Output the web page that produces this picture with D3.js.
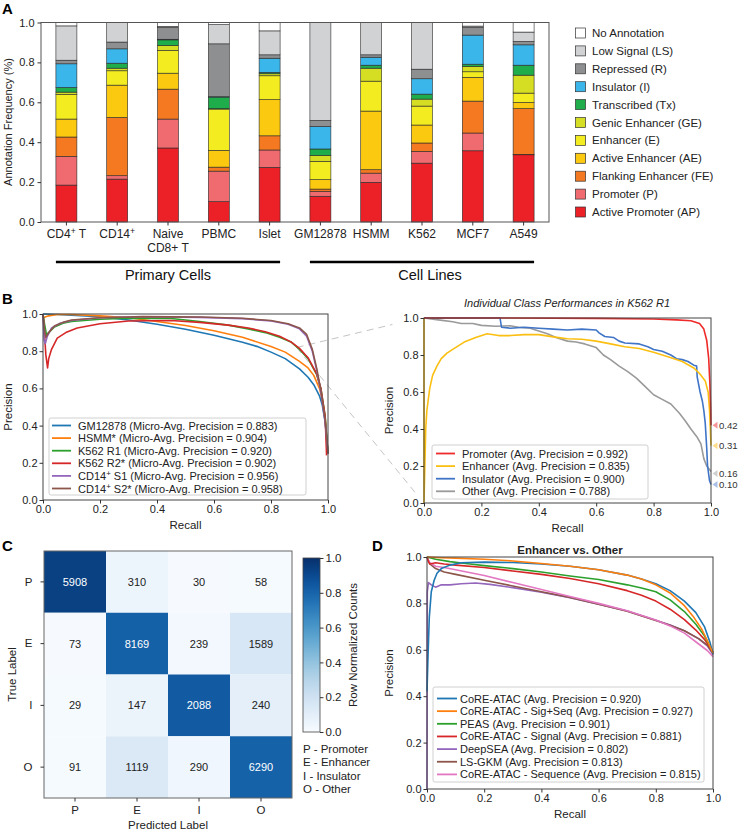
<!DOCTYPE html>
<html><head><meta charset="utf-8">
<script src="https://cdn.jsdelivr.net/npm/d3@7"></script>
<style>
body{margin:0;background:#fff;}
svg{font-family:"Liberation Sans",Arial,sans-serif;}
</style></head>
<body>
<svg id="chart" width="739" height="830"></svg>
<script>
// ---------------- DATA ----------------
// Panel A
const cellTypes = ["CD4^{+} T","CD14^{+}","Naive|CD8+ T","PBMC","Islet","GM12878","HSMM","K562","MCF7","A549"];
const stateKeys = ["AP","P","FE","AE","E","GE","Tx","I","R","LS","NA"];
const stateNames = ["Active Promoter (AP)","Promoter (P)","Flanking Enhancer (FE)","Active Enhancer (AE)","Enhancer (E)","Genic Enhancer (GE)","Transcribed (Tx)","Insulator (I)","Repressed (R)","Low Signal (LS)","No Annotation"];
const stateColors = ["#ec2027","#f06b6f","#f47920","#fbc910","#f3ec20","#d6de23","#1fad4b","#3bb6ea","#8e8f91","#d1d2d4","#ffffff"];
const valAP = [0.185,0.215,0.371,0.102,0.274,0.129,0.199,0.295,0.357,0.337];
const valP  = [0.144,0.017,0.145,0.153,0.087,0.025,0.046,0.059,0.089,0.002];
const valFE = [0.097,0.292,0.150,0.020,0.071,0.011,0.017,0.042,0.160,0.229];
const valAE = [0.090,0.162,0.080,0.084,0.181,0.047,0.294,0.090,0.119,0.031];
const valE  = [0.123,0.072,0.114,0.207,0.120,0.092,0.150,0.095,0.028,0.047];
const valGE = [0.012,0.013,0.025,0.002,0.010,0.030,0.065,0.035,0.027,0.090];
const valTx = [0.023,0.025,0.028,0.058,0.007,0.032,0.015,0.025,0.011,0.050];
const valI  = [0.119,0.072,0.003,0.002,0.071,0.113,0.040,0.077,0.146,0.102];
const valR  = [0.018,0.034,0.059,0.265,0.017,0.030,0.012,0.048,0.038,0.017];
const valLS = [0.172,0.098,0.005,0.096,0.120,0.491,0.162,0.234,0.007,0.047];
const valNA = [0.017,0.000,0.020,0.011,0.042,0.000,0.000,0.000,0.018,0.048];
const groups = [{name:"Primary Cells",from:0,to:4,shift:0},{name:"Cell Lines",from:5,to:9,shift:8}];
const ticks01 = [0,0.2,0.4,0.6,0.8,1.0];

// Panel B left (micro-avg PR curves)
const prGM12878 = [[0,1],[0.05,0.997],[0.1,0.993],[0.2,0.985],[0.3,0.968],[0.4,0.945],[0.5,0.918],[0.6,0.886],[0.7,0.848],[0.75,0.826],[0.8,0.795],[0.85,0.76],[0.9,0.705],[0.93,0.66],[0.95,0.62],[0.97,0.56],[0.98,0.51],[0.99,0.42],[0.995,0.33],[1,0.25]];
const prHSMM = [[0,0.98],[0.02,0.99],[0.05,0.997],[0.1,0.997],[0.2,0.99],[0.3,0.98],[0.4,0.96],[0.5,0.938],[0.6,0.91],[0.7,0.875],[0.8,0.825],[0.85,0.795],[0.9,0.745],[0.93,0.71],[0.95,0.67],[0.97,0.6],[0.98,0.54],[0.99,0.44],[1,0.25]];
const prK562R1 = [[0,1],[0.005,0.95],[0.012,0.89],[0.02,0.9],[0.04,0.93],[0.07,0.95],[0.1,0.96],[0.2,0.972],[0.3,0.978],[0.45,0.976],[0.55,0.96],[0.65,0.94],[0.72,0.92],[0.78,0.9],[0.83,0.875],[0.87,0.85],[0.9,0.81],[0.93,0.76],[0.96,0.675],[0.975,0.6],[0.99,0.45],[1,0.25]];
const prK562R2 = [[0,1],[0.005,0.9],[0.01,0.78],[0.016,0.71],[0.02,0.76],[0.03,0.81],[0.05,0.87],[0.08,0.9],[0.12,0.925],[0.2,0.948],[0.3,0.962],[0.45,0.965],[0.55,0.955],[0.65,0.94],[0.72,0.925],[0.78,0.905],[0.83,0.88],[0.87,0.85],[0.9,0.815],[0.93,0.765],[0.96,0.68],[0.975,0.6],[0.99,0.45],[0.995,0.24]];
const prCD14S1 = [[0,1],[0.004,0.86],[0.008,0.84],[0.015,0.88],[0.03,0.925],[0.06,0.95],[0.1,0.965],[0.2,0.98],[0.35,0.985],[0.55,0.982],[0.7,0.975],[0.8,0.962],[0.86,0.945],[0.9,0.92],[0.925,0.88],[0.945,0.8],[0.96,0.7],[0.975,0.58],[0.99,0.42],[1,0.25]];
const prCD14S2 = [[0,1],[0.005,0.92],[0.01,0.875],[0.02,0.9],[0.04,0.935],[0.07,0.955],[0.1,0.968],[0.2,0.98],[0.35,0.986],[0.55,0.984],[0.7,0.977],[0.8,0.965],[0.86,0.948],[0.9,0.925],[0.925,0.89],[0.945,0.81],[0.96,0.71],[0.975,0.59],[0.99,0.43],[1,0.25]];
const bLeftLabels = ["GM12878 (Micro-Avg. Precision = 0.883)","HSMM* (Micro-Avg. Precision = 0.904)","K562 R1 (Micro-Avg. Precision = 0.920)","K562 R2* (Micro-Avg. Precision = 0.902)","CD14^{+} S1 (Micro-Avg. Precision = 0.956)","CD14^{+} S2* (Micro-Avg. Precision = 0.958)"];
const bLeftColors = ["#1f77b4","#ff7f0e","#2ca02c","#d62728","#9467bd","#8c564b"];

// Panel B right (class PR curves, K562 R1)
const prPromoter = [[0,1],[0.3,1],[0.6,0.998],[0.8,0.995],[0.88,0.99],[0.93,0.985],[0.96,0.97],[0.975,0.94],[0.985,0.88],[0.992,0.78],[0.996,0.65],[0.999,0.5],[1,0.42]];
const prEnhancer = [[0,1],[0,0],[0.003,0.2],[0.006,0.4],[0.01,0.5],[0.02,0.62],[0.03,0.69],[0.045,0.74],[0.06,0.78],[0.08,0.81],[0.1,0.83],[0.14,0.87],[0.18,0.895],[0.22,0.915],[0.26,0.905],[0.3,0.905],[0.35,0.91],[0.4,0.91],[0.45,0.898],[0.5,0.888],[0.55,0.885],[0.6,0.875],[0.65,0.86],[0.7,0.845],[0.75,0.835],[0.8,0.815],[0.85,0.79],[0.9,0.765],[0.94,0.73],[0.96,0.7],[0.98,0.66],[0.99,0.6],[0.995,0.5],[1,0.31]];
const prInsulator = [[0,1],[0.265,1],[0.27,0.95],[0.3,0.945],[0.35,0.95],[0.4,0.945],[0.45,0.94],[0.5,0.935],[0.55,0.94],[0.6,0.935],[0.61,0.92],[0.63,0.9],[0.66,0.895],[0.68,0.875],[0.7,0.865],[0.75,0.86],[0.78,0.845],[0.8,0.83],[0.83,0.82],[0.86,0.8],[0.88,0.78],[0.9,0.775],[0.92,0.765],[0.94,0.745],[0.95,0.74],[0.952,0.68],[0.962,0.6],[0.97,0.55],[0.975,0.5],[0.98,0.43],[0.985,0.3],[0.988,0.2],[0.995,0.12],[1,0.1]];
const prOther = [[0,1],[0.05,0.99],[0.1,0.98],[0.13,0.97],[0.17,0.97],[0.2,0.96],[0.25,0.955],[0.3,0.958],[0.33,0.95],[0.37,0.945],[0.4,0.93],[0.43,0.915],[0.46,0.895],[0.5,0.875],[0.53,0.87],[0.56,0.86],[0.6,0.84],[0.625,0.8],[0.65,0.775],[0.68,0.74],[0.71,0.71],[0.74,0.675],[0.77,0.63],[0.8,0.585],[0.83,0.56],[0.86,0.535],[0.89,0.485],[0.91,0.445],[0.93,0.4],[0.95,0.36],[0.965,0.32],[0.975,0.24],[0.985,0.2],[1,0.17]];
const bRightLabels = ["Promoter (Avg. Precision = 0.992)","Enhancer (Avg. Precision = 0.835)","Insulator (Avg. Precision = 0.900)","Other (Avg. Precision = 0.788)"];
const bRightColors = ["#ee2a2a","#fbbf12","#3f74c7","#9a9a9a"];
const baselineVals = [0.42,0.31,0.16,0.10];
const baselineColors = ["#f5969a","#fddc8a","#cfcfcf","#a9bfe6"];

// Panel C
const cmLabels = ["P","E","I","O"];
const cmCounts = [[5908,310,30,58],[73,8169,239,1589],[29,147,2088,240],[91,1119,290,6290]];
const cmKey = ["P - Promoter","E - Enhancer","I - Insulator","O - Other"];

// Panel D
const prCoreAtac = [[0,0.42],[0.003,0.55],[0.008,0.74],[0.015,0.85],[0.025,0.9],[0.035,0.93],[0.05,0.95],[0.08,0.965],[0.12,0.975],[0.2,0.978],[0.3,0.976],[0.4,0.97],[0.5,0.96],[0.6,0.945],[0.7,0.922],[0.75,0.905],[0.8,0.885],[0.85,0.855],[0.9,0.81],[0.94,0.76],[0.97,0.7],[0.99,0.63],[1,0.58]];
const prSigSeq = [[0,1],[0.05,0.997],[0.1,0.995],[0.2,0.99],[0.3,0.983],[0.4,0.972],[0.5,0.96],[0.6,0.945],[0.7,0.922],[0.75,0.905],[0.8,0.88],[0.85,0.845],[0.9,0.79],[0.93,0.745],[0.96,0.69],[0.98,0.64],[1,0.585]];
const prPEAS = [[0,1],[0.03,0.99],[0.08,0.98],[0.15,0.97],[0.2,0.963],[0.3,0.95],[0.4,0.935],[0.5,0.918],[0.6,0.903],[0.7,0.88],[0.75,0.866],[0.8,0.85],[0.85,0.815],[0.9,0.765],[0.94,0.71],[0.97,0.66],[1,0.59]];
const prSignal = [[0,1],[0.005,0.98],[0.01,0.97],[0.03,0.975],[0.06,0.97],[0.1,0.965],[0.2,0.955],[0.3,0.94],[0.4,0.925],[0.5,0.907],[0.6,0.885],[0.7,0.855],[0.75,0.835],[0.8,0.81],[0.85,0.775],[0.9,0.73],[0.94,0.685],[0.97,0.645],[1,0.59]];
const prDeepSEA = [[0,0],[0.001,0.85],[0.005,0.89],[0.015,0.88],[0.03,0.87],[0.05,0.88],[0.08,0.88],[0.12,0.885],[0.17,0.888],[0.22,0.882],[0.3,0.868],[0.4,0.848],[0.5,0.825],[0.6,0.797],[0.7,0.767],[0.8,0.727],[0.85,0.707],[0.9,0.682],[0.95,0.647],[0.98,0.617],[1,0.58]];
const prLSGKM = [[0,1],[0.01,0.97],[0.03,0.95],[0.06,0.935],[0.1,0.925],[0.2,0.9],[0.3,0.875],[0.4,0.85],[0.5,0.826],[0.6,0.796],[0.7,0.766],[0.8,0.726],[0.85,0.706],[0.9,0.682],[0.95,0.648],[0.98,0.62],[1,0.585]];
const prSequence = [[0,1],[0.01,0.975],[0.03,0.96],[0.06,0.955],[0.1,0.945],[0.2,0.92],[0.3,0.89],[0.4,0.86],[0.5,0.83],[0.6,0.8],[0.7,0.768],[0.8,0.728],[0.85,0.703],[0.9,0.672],[0.95,0.625],[0.98,0.597],[1,0.57]];
const dLabels = ["CoRE-ATAC (Avg. Precision = 0.920)","CoRE-ATAC - Sig+Seq (Avg. Precision = 0.927)","PEAS (Avg. Precision = 0.901)","CoRE-ATAC - Signal (Avg. Precision = 0.881)","DeepSEA (Avg. Precision = 0.802)","LS-GKM (Avg. Precision = 0.813)","CoRE-ATAC - Sequence (Avg. Precision = 0.815)"];
const dColors = ["#1f77b4","#ff7f0e","#2ca02c","#d62728","#9467bd","#8c564b","#e377c2"];

// ---------------- HELPERS ----------------
const svg = d3.select("#chart");
const FS = 11;
function rich(sel, str){
  const parts = str.split(/\^\{(.*?)\}/);
  let shift = 0;
  parts.forEach((p,i)=>{
    if(p==="") return;
    const t = sel.append("tspan").text(p);
    if(i%2===1){ t.attr("font-size","0.72em").attr("dy",-4-shift); shift=-4; }
    else { if(shift!==0){ t.attr("dy",-shift); shift=0; } }
  });
  return sel;
}
function txt(g,x,y,s,opt={}){
  const t=g.append("text").attr("x",x).attr("y",y).attr("font-size",opt.fs||FS).attr("fill",opt.fill||"#222")
    .attr("text-anchor",opt.anchor||"start");
  if(opt.weight) t.attr("font-weight",opt.weight);
  if(opt.style) t.attr("font-style",opt.style);
  if(opt.rotate) t.attr("transform",`rotate(${opt.rotate},${x},${y})`);
  rich(t,s);
  return t;
}
function styleAxis(a){
  a.selectAll(".domain").remove();
  a.selectAll(".tick line").attr("stroke","#333");
  a.selectAll(".tick text").attr("font-size",FS).attr("fill","#222").attr("font-family","Liberation Sans, Arial, sans-serif");
}
function frame(g,x0,y0,x1,y1,color){
  g.append("rect").attr("x",x0).attr("y",y0).attr("width",x1-x0).attr("height",y1-y0)
   .attr("fill","none").attr("stroke",color||"#444").attr("stroke-width",1);
}
function panelLetter(x,y,s){ txt(svg,x,y,s,{fs:15,weight:"bold",fill:"#000"}); }

// ---------------- PANEL A ----------------
{
  const g = svg.append("g");
  const L=41,R=549,T=22.5,B=222;
  const x = d3.scaleBand().domain(d3.range(cellTypes.length)).range([L,R]).paddingInner(0.587).paddingOuter(0.2935);
  const y = d3.scaleLinear().domain([0,1]).range([B,T]);
  const vals=[valAP,valP,valFE,valAE,valE,valGE,valTx,valI,valR,valLS,valNA];
  const rows = cellTypes.map((c,i)=>{const o={idx:i}; stateKeys.forEach((k,j)=>o[k]=vals[j][i]); return o;});
  const stacked = d3.stack().keys(stateKeys)(rows);
  stacked.forEach((layer,j)=>{
    g.append("g").selectAll("rect").data(layer).join("rect")
     .attr("x",d=>x(d.data.idx)).attr("width",x.bandwidth())
     .attr("y",d=>y(d[1])).attr("height",d=>Math.max(0,y(d[0])-y(d[1])))
     .attr("fill",stateColors[j]).attr("stroke","#2a2a2a").attr("stroke-width",0.6);
  });
  frame(g,L,T,R,B,"#555");
  const ay=g.append("g").attr("transform",`translate(${L},0)`).call(d3.axisLeft(y).tickValues(ticks01).tickFormat(d3.format(".1f")).tickSize(3.5).tickPadding(3));
  styleAxis(ay);
  const ax=g.append("g").attr("transform",`translate(0,${B})`).call(d3.axisBottom(x).tickSize(3.5).tickFormat(""));
  styleAxis(ax);
  cellTypes.forEach((c,i)=>{
    const lines=c.split("|");
    lines.forEach((ln,k)=>txt(g,x(i)+x.bandwidth()/2,238+k*14,ln,{fs:12,anchor:"middle"}));
  });
  txt(g,12,122,"Annotation Frequency (%)",{anchor:"middle",rotate:-90});
  groups.forEach(gr=>{
    const x0=x(gr.from), x1=x(gr.to)+x.bandwidth();
    g.append("line").attr("x1",x0).attr("x2",x1).attr("y1",262).attr("y2",262).attr("stroke","#000").attr("stroke-width",2.5);
    txt(g,(x0+x1)/2+gr.shift,280,gr.name,{fs:14.5,anchor:"middle",fill:"#111"});
  });
  // legend
  const order = d3.range(stateKeys.length).reverse();
  order.forEach((j,i)=>{
    const cy=33+i*17.9;
    g.append("rect").attr("x",575.5).attr("y",cy-5).attr("width",10).attr("height",10).attr("fill",stateColors[j]).attr("stroke","#333").attr("stroke-width",0.7);
    txt(g,592,cy+4,stateNames[j],{fs:11.5});
  });
  panelLetter(2,14,"A");
}

// ---------------- PR helper ----------------
function prPanel(opt){
  const g=svg.append("g");
  const x=d3.scaleLinear().domain([0,1]).range([opt.L,opt.R]);
  const y=d3.scaleLinear().domain([0,1]).range([opt.B,opt.T]);
  const line=d3.line().x(d=>x(d[0])).y(d=>y(d[1]));
  const cg=g.append("g");
  opt.curves.forEach((c,i)=>{
    cg.append("path").attr("d",line(c)).attr("fill","none").attr("stroke",opt.colors[i]).attr("stroke-width",opt.lw||1.6).attr("stroke-linejoin","round");
  });
  frame(g,opt.L,opt.T,opt.R,opt.B,"#444");
  const ay=g.append("g").attr("transform",`translate(${opt.L},0)`).call(d3.axisLeft(y).tickValues(ticks01).tickFormat(d3.format(".1f")).tickSize(3.5).tickPadding(2));
  styleAxis(ay);
  const ax=g.append("g").attr("transform",`translate(0,${opt.B})`).call(d3.axisBottom(x).tickValues(ticks01).tickFormat(d3.format(".1f")).tickSize(3.5).tickPadding(2));
  styleAxis(ax);
  txt(g,(opt.L+opt.R)/2,opt.B+29,"Recall",{anchor:"middle",fs:11.5});
  txt(g,opt.ylabX,(opt.T+opt.B)/2,"Precision",{anchor:"middle",rotate:-90,fs:11.5});
  // legend
  const lg=opt.legend;
  g.append("rect").attr("x",lg.x0).attr("y",lg.y0).attr("width",lg.x1-lg.x0).attr("height",lg.y1-lg.y0)
    .attr("fill","rgba(255,255,255,0.85)").attr("stroke","#d0d0d0").attr("rx",2);
  opt.labels.forEach((s,i)=>{
    const cy=lg.r0+i*lg.dy;
    g.append("line").attr("x1",lg.lx0).attr("x2",lg.lx1).attr("y1",cy).attr("y2",cy).attr("stroke",opt.colors[i]).attr("stroke-width",1.8);
    txt(g,lg.tx,cy+4,s,{fs:11});
  });
  return {g,x,y};
}

// dashed zoom lines (drawn first, under panels)
const zoomLayer = svg.append("g");

// ---------------- PANEL B left ----------------
const bl = prPanel({L:43,R:328,T:314,B:500,ylabX:12,
  curves:[prGM12878,prHSMM,prK562R1,prK562R2,prCD14S1,prCD14S2],colors:bLeftColors,labels:bLeftLabels,
  legend:{x0:49,x1:306,y0:418,y1:495,r0:425.5,dy:12.6,lx0:52,lx1:71,tx:78}});
panelLetter(2,304,"B");

// ---------------- PANEL B right ----------------
const br = prPanel({L:424,R:711,T:318,B:503,ylabX:393,
  curves:[prOther,prInsulator,prEnhancer,prPromoter],colors:[bRightColors[3],bRightColors[2],bRightColors[1],bRightColors[0]],
  labels:[],legend:{x0:432,x1:648,y0:445,y1:499,r0:453,dy:12.7,lx0:436,lx1:455,tx:462}});
bRightLabels.forEach((s,i)=>{
  const cy=453.5+i*12.6;
  br.g.append("line").attr("x1",436).attr("x2",455).attr("y1",cy).attr("y2",cy).attr("stroke",bRightColors[i]).attr("stroke-width",1.8);
  txt(br.g,462,cy+4,s,{fs:11});
});
txt(br.g,567,307,"Individual Class Performances in K562 R1",{anchor:"middle",style:"italic",fs:11});
baselineVals.forEach((v,i)=>{
  const yy=br.y(v), xx=br.x(1)+1.5;
  br.g.append("path").attr("d",`M${xx},${yy} L${xx+5},${yy-3.5} L${xx+5},${yy+3.5} Z`).attr("fill",baselineColors[i]);
  txt(br.g,xx+6.5,yy+3.5,d3.format(".2f")(v),{fs:9.6,fill:"#333"});
});

// dashed connectors
const zStart=[bl.x(0.89),bl.y(0.82)];
[[br.x(-0.11),br.y(0.965)],[br.x(-0.022),br.y(0.04)]].forEach(e=>{
  zoomLayer.append("line").attr("x1",zStart[0]).attr("y1",zStart[1]).attr("x2",e[0]).attr("y2",e[1])
    .attr("stroke","#c4c4c4").attr("stroke-width",1).attr("stroke-dasharray","7,5");
});

// ---------------- PANEL C ----------------
{
  const g=svg.append("g");
  const L=44,R=292,T=551,B=798;
  const x=d3.scaleBand().domain(cmLabels).range([L,R]);
  const y=d3.scaleBand().domain(cmLabels).range([T,B]);
  const color=d3.scaleSequential(d3.interpolateBlues).domain([0,1]);
  cmCounts.forEach((row,i)=>{
    const tot=d3.sum(row);
    row.forEach((v,j)=>{
      const f=v/tot;
      g.append("rect").attr("x",x(cmLabels[j])).attr("y",y(cmLabels[i])).attr("width",x.bandwidth()).attr("height",y.bandwidth()).attr("fill",color(f));
      txt(g,x(cmLabels[j])+x.bandwidth()/2,y(cmLabels[i])+y.bandwidth()/2+4,String(v),{anchor:"middle",fs:11,fill:f>0.5?"#fff":"#222"});
    });
  });
  frame(g,L,T,R,B,"#666");
  const ax=g.append("g").attr("transform",`translate(0,${B})`).call(d3.axisBottom(x).tickSize(3.5).tickPadding(4));
  styleAxis(ax); ax.selectAll(".tick text").attr("font-size",11.5);
  const ay=g.append("g").attr("transform",`translate(${L},0)`).call(d3.axisLeft(y).tickSize(3.5).tickPadding(8));
  styleAxis(ay); ay.selectAll(".tick text").attr("font-size",11.5);
  txt(g,(L+R)/2,829,"Predicted Label",{anchor:"middle",fs:11.5});
  txt(g,16,(T+B)/2,"True Label",{anchor:"middle",rotate:-90,fs:11.5});
  // colorbar
  const cx0=303,cx1=320,cy0=558,cy1=732;
  const defs=svg.append("defs");
  const grad=defs.append("linearGradient").attr("id","cbar").attr("x1",0).attr("y1",1).attr("x2",0).attr("y2",0);
  d3.range(0,1.0001,0.05).forEach(t=>grad.append("stop").attr("offset",t).attr("stop-color",color(t)));
  g.append("rect").attr("x",cx0).attr("y",cy0).attr("width",cx1-cx0).attr("height",cy1-cy0).attr("fill","url(#cbar)").attr("stroke","#444").attr("stroke-width",0.8);
  const cs=d3.scaleLinear().domain([0,1]).range([cy1,cy0]);
  const ac=g.append("g").attr("transform",`translate(${cx1},0)`).call(d3.axisRight(cs).tickValues(ticks01).tickFormat(d3.format(".1f")).tickSize(3.5).tickPadding(2));
  styleAxis(ac); ac.selectAll(".tick text").attr("font-size",11.5);
  txt(g,357,(cy0+cy1)/2,"Row Normalized Counts",{anchor:"middle",rotate:-90,fs:11.5});
  cmKey.forEach((s,i)=>txt(g,303,753+i*13.3,s,{fs:11.5}));
  panelLetter(2,551,"C");
}

// ---------------- PANEL D ----------------
{
  const d = prPanel({L:427,R:713,T:557,B:789,ylabX:393,
    curves:[prDeepSEA,prLSGKM,prSequence,prSignal,prPEAS,prCoreAtac,prSigSeq],
    colors:[dColors[4],dColors[5],dColors[6],dColors[3],dColors[2],dColors[0],dColors[1]],
    labels:[],legend:{x0:433,x1:704,y0:687,y1:782,r0:698,dy:12.7,lx0:437,lx1:457,tx:460}});
  dLabels.forEach((s,i)=>{
    const cy=698.5+i*12.65;
    d.g.append("line").attr("x1",437).attr("x2",457).attr("y1",cy).attr("y2",cy).attr("stroke",dColors[i]).attr("stroke-width",1.8);
    txt(d.g,460,cy+4,s,{fs:11});
  });
  txt(d.g,570,554,"Enhancer vs. Other",{anchor:"middle",weight:"bold",fs:11.5});
  panelLetter(372,551,"D");
}
</script>
</body></html>
